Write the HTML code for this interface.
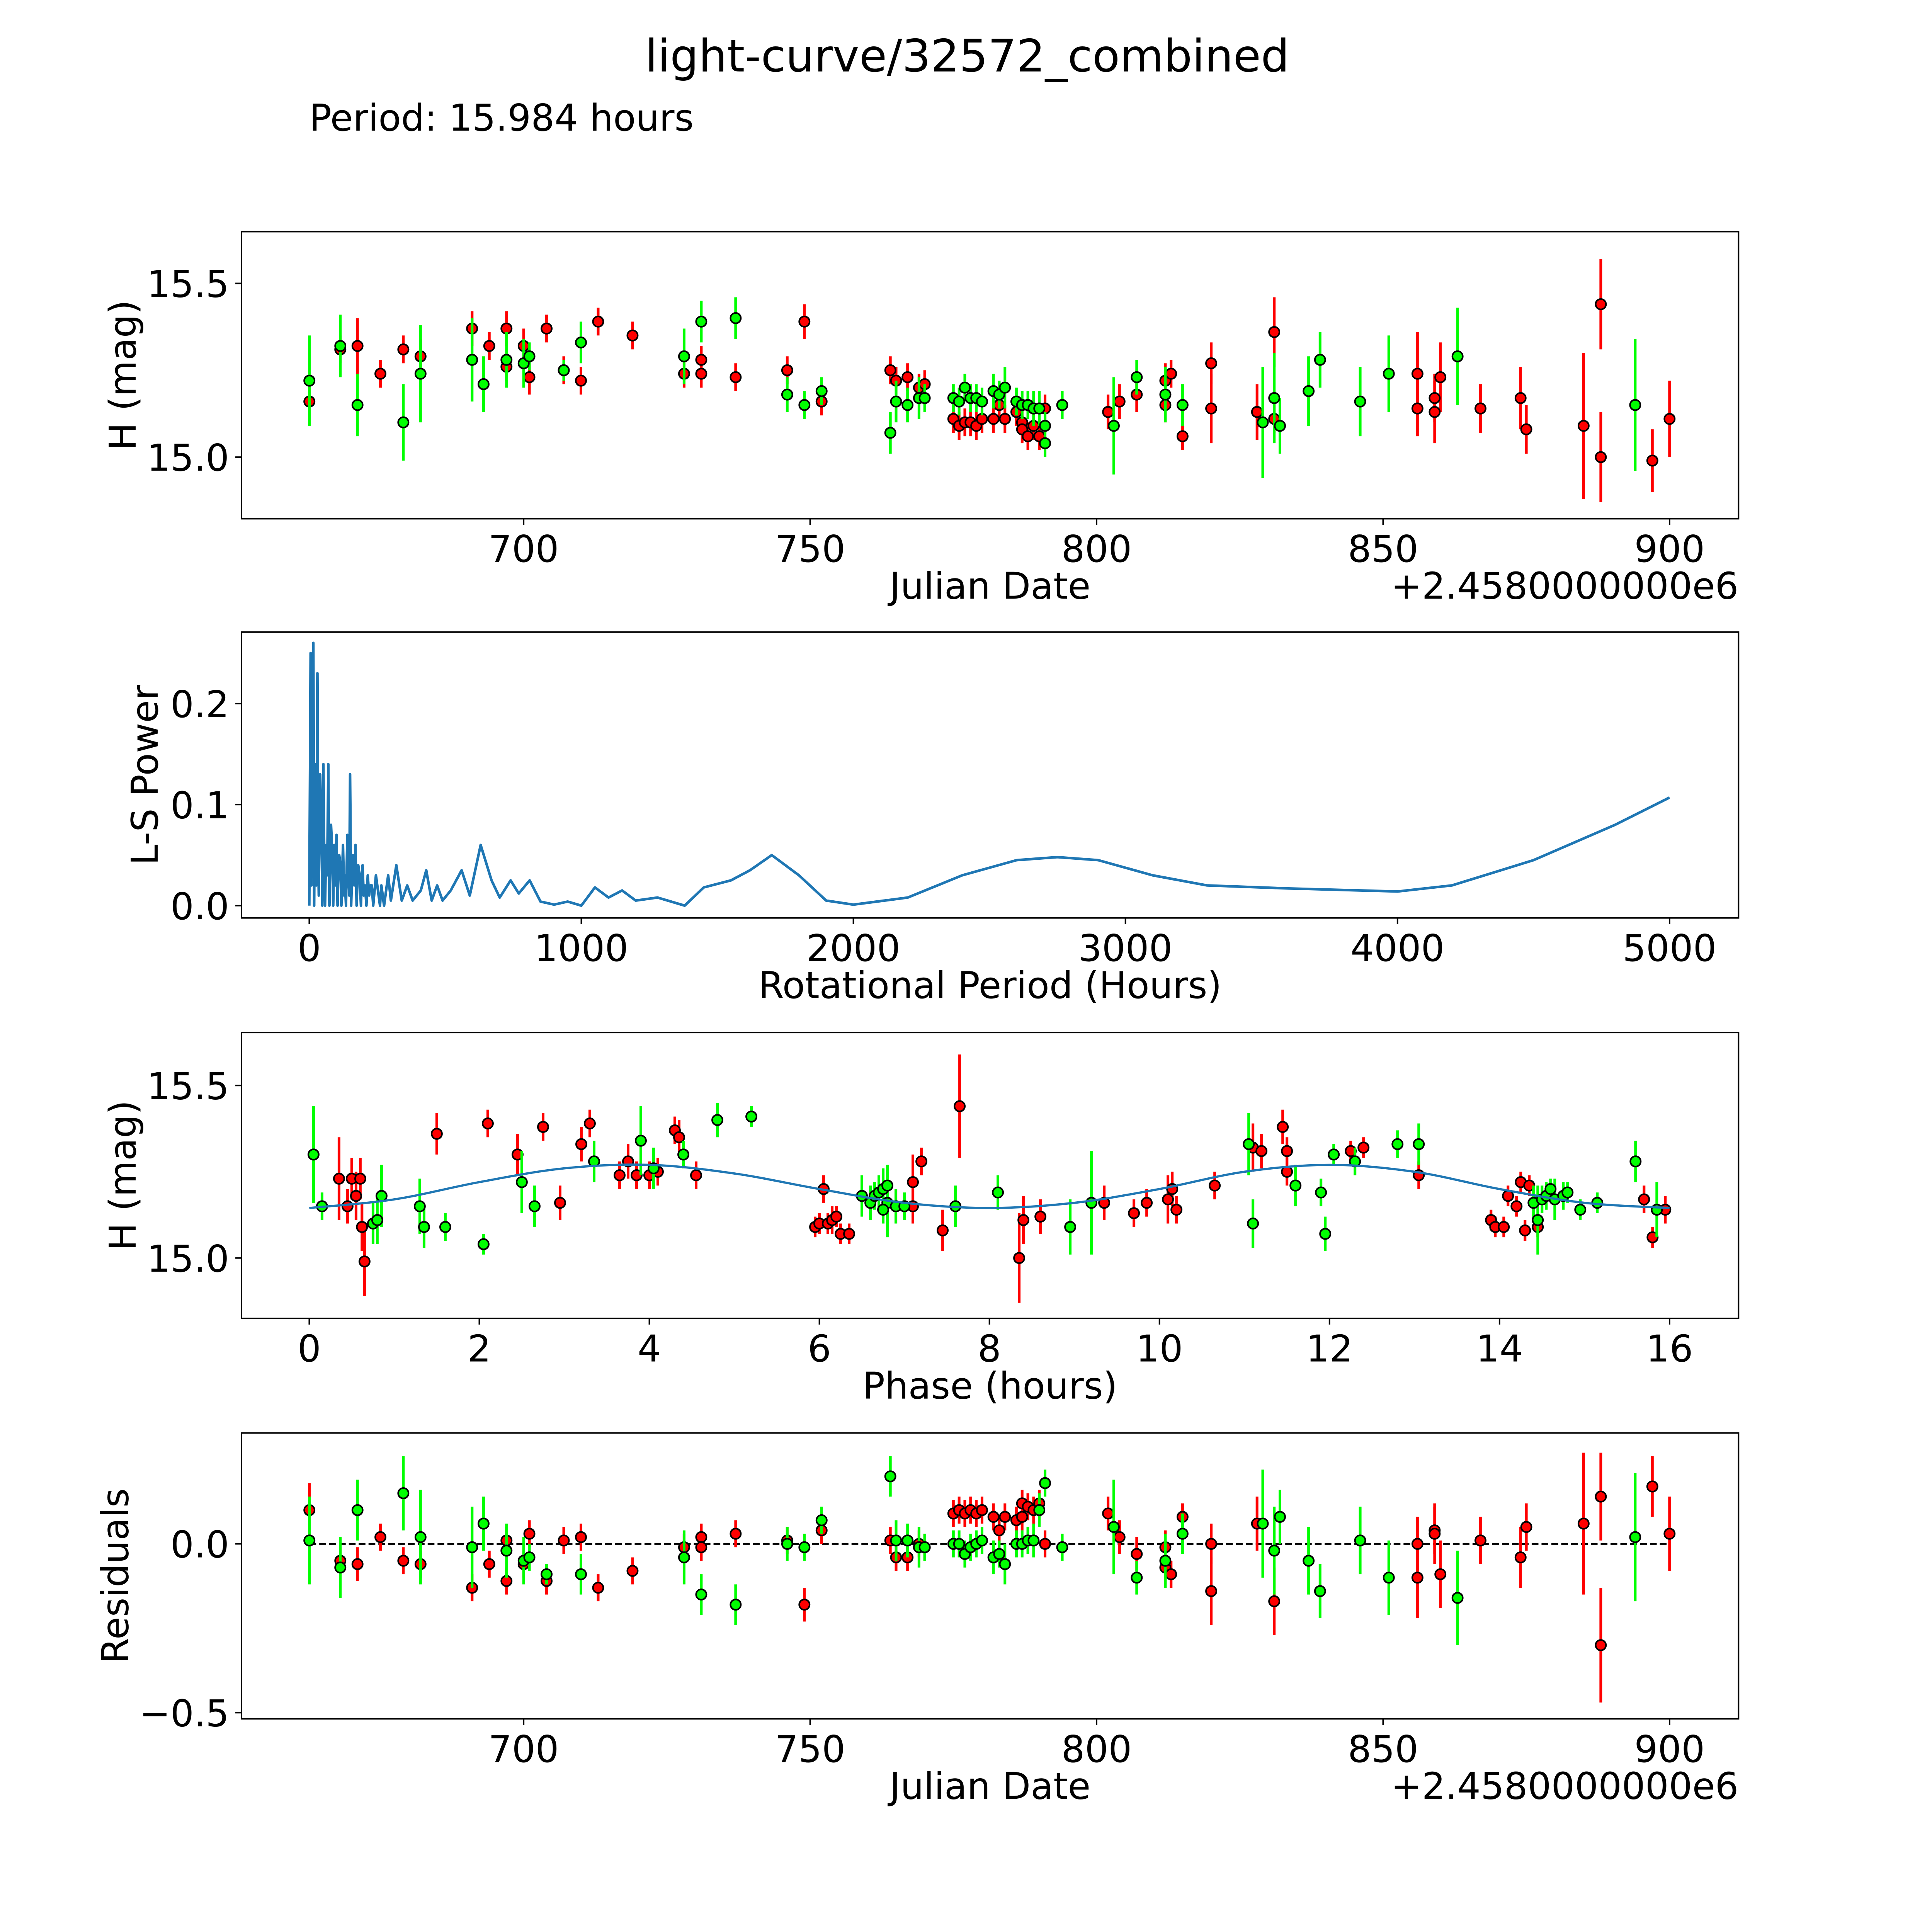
<!DOCTYPE html>
<html><head><meta charset="utf-8"><style>
html,body{margin:0;padding:0;background:#fff;overflow:hidden;width:100vw;height:100vh}
svg{display:block;width:100vw;height:100vh}
text{font-family:"DejaVu Sans","Liberation Sans",sans-serif;fill:#000}
</style></head><body>
<svg id="fig" xmlns="http://www.w3.org/2000/svg" viewBox="0 0 1568 1568" preserveAspectRatio="none">
<rect width="1568" height="1568" fill="#fff"/>
<text x="785" y="58" font-size="36.5" text-anchor="middle">light-curve/32572_combined</text>
<text x="251" y="106" font-size="30">Period: 15.984 hours</text>
</svg>
<script>
// ---- Panel 1: light curve (JD, mag, err)
const lcRedJD=[662.6,668,671,675,679,682,691,694,697,697,700,701,704,707,710,713,719,728,731,731,737,746,749,752,764,765,767,769,770,775,776,777,778,779,780,782,783,784,786,787,787,788,789,790,791,802,804,807,812,812,813,815,820,820,828,831,831,856,856,859,859,860,867,874,875,885,888,888,897,900];
const lcRedMag=[15.16,15.31,15.32,15.24,15.31,15.29,15.37,15.32,15.26,15.37,15.32,15.23,15.37,15.25,15.22,15.39,15.35,15.24,15.28,15.24,15.23,15.25,15.39,15.16,15.25,15.22,15.23,15.2,15.21,15.11,15.09,15.1,15.1,15.09,15.11,15.11,15.15,15.11,15.13,15.1,15.08,15.06,15.09,15.06,15.14,15.13,15.16,15.18,15.15,15.22,15.24,15.06,15.14,15.27,15.13,15.36,15.11,15.14,15.24,15.17,15.13,15.23,15.14,15.17,15.08,15.09,15.44,15.0,14.99,15.11];
const lcRedErr=[.07,.04,.08,.04,.04,.05,.05,.04,.04,.05,.05,.05,.04,.04,.04,.04,.04,.04,.04,.04,.04,.04,.05,.04,.04,.04,.04,.04,.04,.04,.04,.04,.04,.04,.04,.04,.04,.04,.04,.04,.04,.04,.04,.04,.04,.05,.05,.05,.05,.05,.04,.04,.1,.06,.08,.1,.04,.08,.12,.07,.09,.1,.07,.09,.07,.21,.13,.13,.09,.11];
const lcGreenJD=[662.6,668,671,679,682,691,693,697,700,701,707,710,728,731,737,746,749,752,764,765,767,769,770,775,776,777,778,779,780,782,783,784,786,787,788,789,790,791,791,794,803,807,812,815,829,831,832,837,839,846,851,863,894];
const lcGreenMag=[15.22,15.32,15.15,15.1,15.24,15.28,15.21,15.28,15.27,15.29,15.25,15.33,15.29,15.39,15.4,15.18,15.15,15.19,15.07,15.16,15.15,15.17,15.17,15.17,15.16,15.2,15.17,15.17,15.16,15.19,15.18,15.2,15.16,15.15,15.15,15.14,15.14,15.04,15.09,15.15,15.09,15.23,15.18,15.15,15.1,15.17,15.09,15.19,15.28,15.16,15.24,15.29,15.15];
const lcGreenErr=[.13,.09,.09,.11,.14,.12,.08,.08,.07,.04,.03,.06,.08,.06,.06,.05,.04,.04,.06,.06,.05,.06,.04,.04,.04,.04,.04,.04,.04,.05,.04,.06,.04,.04,.04,.05,.05,.04,.04,.04,.14,.05,.08,.06,.16,.13,.08,.1,.08,.1,.11,.14,.19];
const jdTicks=[700,750,800,850,900];
const magTicks=[15.0,15.5];
// ---- Panel 2: periodogram
const lsPeriod=[0,3,5,8,10,12,15,18,20,22,26,30,33,35,38,40,45,48,52,55,58,62,66,70,74,78,80,85,88,92,96,100,104,108,110,115,118,121,124,128,130,135,140,144,147,150,154,158,160,165,170,174,178,180,185,190,193,196,200,205,210,215,220,225,230,235,245,260,265,275,290,300,320,340,360,380,410,430,450,470,490,520,560,590,630,670,700,740,770,810,850,900,950,1000,1050,1100,1150,1200,1280,1380,1450,1550,1620,1700,1800,1900,2000,2200,2400,2600,2750,2900,3100,3300,3600,4000,4200,4500,4800,5000];
const lsPower=[0,0.15,0.25,0.02,0.15,0.05,0.26,0.0,0.1,0.14,0.02,0.23,0.05,0.01,0.09,0.13,0.08,0.0,0.14,0.05,0.0,0.06,0.03,0.14,0.0,0.05,0.08,0.05,0.0,0.06,0.02,0.07,0.0,0.04,0.05,0.04,0.0,0.03,0.06,0.01,0.03,0.0,0.07,0.03,0.01,0.13,0.0,0.04,0.05,0.02,0.06,0.0,0.03,0.04,0.03,0.0,0.03,0.04,0.01,0.02,0.0,0.03,0.01,0.02,0.02,0.0,0.03,0.0,0.02,0.0,0.03,0.005,0.04,0.005,0.02,0.005,0.015,0.035,0.005,0.02,0.005,0.015,0.035,0.01,0.06,0.025,0.008,0.025,0.012,0.025,0.004,0.001,0.004,0.0,0.018,0.008,0.015,0.005,0.008,0.0,0.018,0.025,0.035,0.05,0.03,0.005,0.001,0.008,0.03,0.045,0.048,0.045,0.03,0.02,0.017,0.014,0.02,0.045,0.08,0.107];
const lsXTicks=[0,1000,2000,3000,4000,5000];
const lsYTicks=[0.0,0.1,0.2];
// ---- Panel 3: phased
const phRed=[0.35,0.45,0.5,0.55,0.6,0.62,0.65,1.5,2.1,2.45,2.75,2.95,3.2,3.3,3.65,3.75,3.85,4.0,4.1,4.3,4.35,4.55,5.95,6.0,6.05,6.1,6.15,6.2,6.25,6.35,6.9,7.1,7.2,7.1,7.45,7.65,8.35,8.4,8.6,9.35,9.7,9.85,10.1,10.15,10.2,10.65,11.1,11.2,11.45,11.5,11.5,12.25,12.4,13.05,13.9,13.95,14.05,14.1,14.2,14.25,14.3,14.35,14.45,15.7,15.8,15.95];
const phRedMag=[15.23,15.15,15.23,15.18,15.23,15.09,14.99,15.36,15.39,15.3,15.38,15.16,15.33,15.39,15.24,15.28,15.24,15.24,15.25,15.37,15.35,15.24,15.09,15.1,15.2,15.1,15.11,15.12,15.07,15.07,15.15,15.22,15.28,15.15,15.08,15.44,15.0,15.11,15.12,15.16,15.13,15.16,15.17,15.2,15.14,15.21,15.32,15.31,15.38,15.25,15.31,15.31,15.32,15.24,15.11,15.09,15.09,15.18,15.15,15.22,15.08,15.21,15.09,15.17,15.06,15.14];
const phRedErr=[.12,.05,.06,.07,.06,.07,.1,.06,.04,.06,.04,.05,.05,.04,.04,.05,.04,.04,.04,.04,.05,.04,.03,.03,.04,.03,.04,.03,.03,.03,.05,.08,.04,.05,.06,.15,.13,.07,.05,.05,.04,.04,.07,.05,.04,.04,.07,.05,.05,.04,.04,.03,.03,.04,.03,.03,.03,.03,.03,.03,.03,.03,.03,.04,.03,.04];
const phGreen=[0.05,0.15,0.75,0.85,0.8,1.3,1.35,1.6,2.05,2.5,2.65,3.35,3.9,4.05,4.4,4.8,5.2,6.5,6.6,6.65,6.7,6.75,6.8,6.8,6.9,7.0,6.75,7.6,8.1,8.95,9.2,11.05,11.1,11.6,11.9,11.95,12.05,12.3,12.8,13.05,14.4,14.45,14.5,14.55,14.6,14.65,14.75,14.8,14.95,15.15,15.6,15.85];
const phGreenMag=[15.3,15.15,15.1,15.18,15.11,15.15,15.09,15.09,15.04,15.22,15.15,15.28,15.34,15.26,15.3,15.4,15.41,15.18,15.16,15.18,15.19,15.2,15.21,15.16,15.15,15.15,15.14,15.15,15.19,15.09,15.16,15.33,15.1,15.21,15.19,15.07,15.3,15.28,15.33,15.33,15.16,15.11,15.17,15.18,15.2,15.17,15.18,15.19,15.14,15.16,15.28,15.14];
const phGreenErr=[.14,.04,.06,.09,.07,.08,.06,.04,.03,.09,.06,.06,.1,.06,.04,.05,.03,.06,.05,.04,.05,.06,.06,.1,.05,.04,.04,.06,.05,.08,.15,.09,.07,.06,.04,.05,.03,.04,.04,.06,.05,.1,.04,.04,.03,.06,.04,.03,.03,.03,.06,.08];
const modelPhase=[0,1,2,3,4,5,6,7,8,9,10,11,12,13,14,15,16];
const modelMag=[15.145,15.17,15.22,15.26,15.27,15.245,15.2,15.16,15.145,15.16,15.2,15.25,15.27,15.25,15.2,15.16,15.145];
const phXTicks=[0,2,4,6,8,10,12,14,16];
// ---- Panel 4: residuals
const resRedJD=[662.6,668,671,675,679,682,691,694,697,697,700,701,704,707,710,713,719,728,731,731,737,746,749,752,764,765,767,769,770,775,776,777,778,779,780,782,783,784,786,787,787,788,789,790,791,802,804,807,812,812,813,815,820,820,828,831,856,856,859,859,860,867,874,875,885,888,888,897,900];
const resRed=[.10,-.05,-.06,.02,-.05,-.06,-.13,-.06,-.11,.01,-.06,.03,-.11,.01,.02,-.13,-.08,-.01,.02,-.01,.03,.01,-.18,.04,.01,-.04,-.04,0,-.01,.09,.10,.09,.10,.09,.10,.08,.04,.08,.07,.08,.12,.11,.10,.12,0,.09,.02,-.03,-.07,-.01,-.09,.08,-.14,0,.06,-.17,0,-.1,.04,.03,-.09,.01,-.04,.05,.06,-.3,.14,.17,.03];
const resRedErr=[.08,.04,.05,.04,.04,.04,.04,.04,.04,.04,.04,.04,.04,.04,.04,.04,.04,.04,.04,.04,.04,.04,.05,.04,.04,.04,.04,.04,.04,.04,.04,.04,.04,.04,.04,.04,.04,.04,.04,.04,.04,.04,.04,.04,.04,.05,.05,.05,.05,.05,.04,.04,.1,.06,.08,.1,.08,.12,.07,.09,.1,.07,.09,.07,.21,.17,.13,.09,.11];
const resGreenJD=[662.6,668,671,679,682,691,693,697,700,701,704,710,728,731,737,746,749,752,764,765,767,769,770,775,776,777,778,779,780,782,783,784,786,787,788,789,790,791,794,803,807,812,815,829,831,832,837,839,846,851,863,894];
const resGreen=[.01,-.07,.10,.15,.02,-.01,.06,-.02,-.05,-.04,-.09,-.09,-.04,-.15,-.18,0,-.01,.07,.2,.01,.01,-.01,-.01,0,0,-.03,-.01,0,.01,-.04,-.03,-.06,0,0,.01,.01,.1,.18,-.01,.05,-.1,-.05,.03,.06,-.02,.08,-.05,-.14,.01,-.1,-.16,.02];
const resGreenErr=[.13,.09,.09,.11,.14,.12,.08,.08,.07,.04,.03,.06,.08,.06,.06,.05,.04,.04,.06,.06,.05,.06,.04,.04,.04,.04,.04,.04,.04,.05,.04,.06,.04,.04,.04,.05,.05,.04,.04,.14,.05,.08,.06,.16,.13,.08,.1,.08,.1,.11,.14,.19];
const resYTicks=[-0.5,0.0];

const NS='http://www.w3.org/2000/svg';
const svg=document.getElementById('fig');
function mk(tag,attrs,parent){const e=document.createElementNS(NS,tag);for(const k in attrs)e.setAttribute(k,attrs[k]);(parent||svg).appendChild(e);return e;}
function lin(d0,d1,r0,r1){return v=>r0+(v-d0)*(r1-r0)/(d1-d0);}
const L=196,R=1411,FS=30;
function axesFrame(g,top,bot,xs,ys,xt,yt,fmtX,fmtY,xlabel,ylabel,name){
  const fr=mk('rect',{x:L,y:top,width:R-L,height:bot-top,fill:'none',stroke:'#000','stroke-width':1.2},g);
  
  
  xt.forEach(v=>{const x=xs(v);mk('line',{x1:x,x2:x,y1:bot,y2:bot+5,stroke:'#000','stroke-width':1.2},g);
    const t=mk('text',{x:x,y:bot+35,'font-size':FS,'text-anchor':'middle'},g);t.textContent=fmtX(v);
    
    });
  yt.forEach(v=>{const y=ys(v);mk('line',{x1:L-5,x2:L,y1:y,y2:y,stroke:'#000','stroke-width':1.2},g);
    const t=mk('text',{x:L-10,y:y+11,'font-size':FS,'text-anchor':'end'},g);t.textContent=fmtY(v);
    
    });
  const xl=mk('text',{x:(L+R)/2,y:bot+65,'font-size':FS,'text-anchor':'middle'},g);xl.textContent=xlabel;
  
  
  const cy=(top+bot)/2;
  const yl=mk('text',{x:0,y:0,'font-size':FS,'text-anchor':'middle',transform:`translate(${ylabel.x},${cy}) rotate(-90)`},g);yl.textContent=ylabel.t;
  
  
}
function errSeries(g,X,Y,E,xs,ys,col,name){
  X.forEach((x,i)=>{const l=mk('line',{x1:xs(x),x2:xs(x),y1:ys(Y[i]-E[i]),y2:ys(Y[i]+E[i]),stroke:col,'stroke-width':2.2},g);
    
    });
  X.forEach((x,i)=>{const c=mk('circle',{cx:xs(x),cy:ys(Y[i]),r:4.2,fill:col,stroke:'#000','stroke-width':1.3},g);
    
    });
}
function offsetText(g,bot){const t=mk('text',{x:R,y:bot+65,'font-size':FS,'text-anchor':'end'},g);t.textContent='+2.4580000000e6';
  
  }
const f1=v=>v.toFixed(1), f0=v=>String(v);
const jdX=lin(700,900,425,1355);

// Panel 1
{const g=mk('g',{});
 const top=188,bot=421,ys=lin(15.0,15.5,371,230);
 const cp=mk('clipPath',{id:'c1'},g);mk('rect',{x:L,y:top,width:R-L,height:bot-top},cp);
 const d=mk('g',{'clip-path':'url(#c1)'},g);
 errSeries(d,lcRedJD,lcRedMag,lcRedErr,jdX,ys,'#ff0000','red-filter');
 errSeries(d,lcGreenJD,lcGreenMag,lcGreenErr,jdX,ys,'#00ff00','green-filter');
 axesFrame(g,top,bot,jdX,ys,jdTicks,magTicks,f0,f1,'Julian Date',{x:110,t:'H (mag)'},'light-curve');
 offsetText(g,bot);}
// Panel 2
{const g=mk('g',{});
 const top=513,bot=745,xs=lin(0,5000,251,1355),ys=lin(0,0.1,735,653);
 const pts=lsPeriod.map((p,i)=>xs(p).toFixed(2)+','+ys(lsPower[i]).toFixed(2)).join(' ');
 const pl=mk('polyline',{points:pts,fill:'none',stroke:'#1f77b4','stroke-width':2.1,'stroke-linejoin':'round'},g);
 
 
 axesFrame(g,top,bot,xs,ys,lsXTicks,lsYTicks,f0,f1,'Rotational Period (Hours)',{x:128,t:'L-S Power'},'periodogram');}
// Panel 3
{const g=mk('g',{});
 const top=838,bot=1070,xs=lin(0,16,251,1355),ys=lin(15.0,15.5,1021,881);
 const cp=mk('clipPath',{id:'c3'},g);mk('rect',{x:L,y:top,width:R-L,height:bot-top},cp);
 const d=mk('g',{'clip-path':'url(#c3)'},g);
 errSeries(d,phRed,phRedMag,phRedErr,xs,ys,'#ff0000','phased-red');
 errSeries(d,phGreen,phGreenMag,phGreenErr,xs,ys,'#00ff00','phased-green');
 const P=modelPhase.map((p,i)=>[xs(p),ys(modelMag[i])]);
 let dstr='M'+P[0][0]+','+P[0][1];
 for(let i=0;i<P.length-1;i++){const p0=P[Math.max(0,i-1)],p1=P[i],p2=P[i+1],p3=P[Math.min(P.length-1,i+2)];
  dstr+=` C${p1[0]+(p2[0]-p0[0])/6},${p1[1]+(p2[1]-p0[1])/6} ${p2[0]-(p3[0]-p1[0])/6},${p2[1]-(p3[1]-p1[1])/6} ${p2[0]},${p2[1]}`;}
 const mp=mk('path',{d:dstr,fill:'none',stroke:'#1f77b4','stroke-width':1.8},d);
 
 
 axesFrame(g,top,bot,xs,ys,phXTicks,magTicks,f0,f1,'Phase (hours)',{x:110,t:'H (mag)'},'phased');}
// Panel 4
{const g=mk('g',{});
 const top=1163,bot=1395,ys=lin(0,-0.5,1253,1390);
 const cp=mk('clipPath',{id:'c4'},g);mk('rect',{x:L,y:top,width:R-L,height:bot-top},cp);
 const d=mk('g',{'clip-path':'url(#c4)'},g);
 const zl=mk('line',{x1:jdX(662.6),x2:jdX(900),y1:ys(0),y2:ys(0),stroke:'#000','stroke-width':1.5,'stroke-dasharray':'5.5,2.5'},d);
 
 
 errSeries(d,resRedJD,resRed,resRedErr,jdX,ys,'#ff0000','residual-red');
 errSeries(d,resGreenJD,resGreen,resGreenErr,jdX,ys,'#00ff00','residual-green');
 axesFrame(g,top,bot,jdX,ys,jdTicks,resYTicks,f0,v=>v<0?'\u2212'+Math.abs(v).toFixed(1):v.toFixed(1),'Julian Date',{x:104,t:'Residuals'},'residuals');
 offsetText(g,bot);}
</script>
</body></html>
